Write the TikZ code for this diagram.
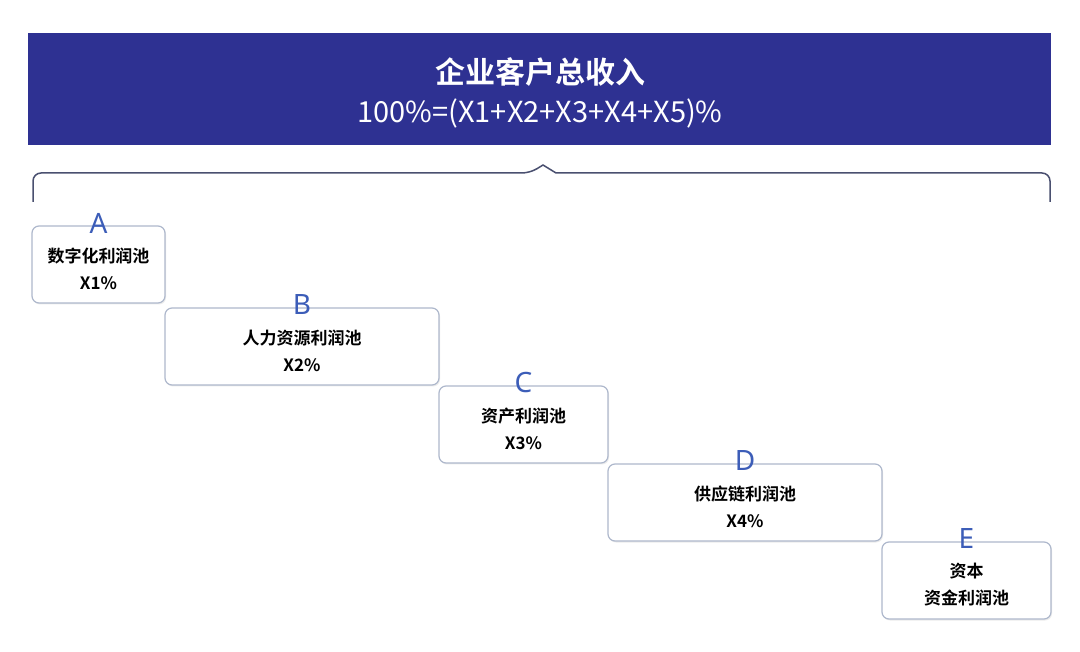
\documentclass[tikz,border=0pt]{standalone}
\usepackage{fontspec}
\setmainfont{Noto Sans CJK SC}
\newfontfamily\cjkb{Noto Sans CJK SC Bold}
\newfontfamily\latb{Noto Sans}
\definecolor{hdr}{HTML}{2E3192}
\definecolor{lett}{HTML}{3C5DB8}
\definecolor{bord}{HTML}{AEB8CC}
\definecolor{brc}{HTML}{4A5070}
\tikzset{x=1pt,y=-1pt,
 pool/.style={draw=bord,line width=1.2pt,rounded corners=7pt,fill=white,drop shadow={opacity=0.15,shadow xshift=1pt,shadow yshift=-1.5pt}},
 letter/.style={text=lett,font=\latb\fontsize{28}{28}\selectfont},
 ptxt/.style={align=center,font=\cjkb\fontsize{17}{27}\selectfont}}
\usetikzlibrary{shadows}
\begin{document}
\begin{tikzpicture}
\useasboundingbox (0,0) rectangle (1080,652);
\fill[white] (0,0) rectangle (1080,652);
\node[fill=hdr,minimum width=1023pt,minimum height=112pt,inner sep=0pt] (hdr) at (539.5,89) {};
\node[text=white,font=\cjkb\fontsize{30}{30}\selectfont] (t1) at (540,72) {企业客户总收入};
\node[text=white,font=\fontsize{29}{29}\selectfont] (t2) at (540,113) {100\%=(X1+X2+X3+X4+X5)\%};
\draw[brc,line width=1.5pt,rounded corners=8pt] (33,202) -- (33,173) -- (530,173) [sharp corners]-- (543,165) -- (556,173) [rounded corners=8pt]-- (1050,173) -- (1050,202);
\foreach \n/\xa/\xb/\ya/\l/\t/\v in {a/32/165/226/A/数字化利润池/X1\%,b/165/439/308/B/人力资源利润池/X2\%,c/439/608/386/C/资产利润池/X3\%,d/608/882/464/D/供应链利润池/X4\%,e/882/1051/542/E/资本 / 资金利润池/X5\%}{
 \draw[pool] (\xa,\ya) rectangle (\xb,\ya+77);
 \node[letter] (l\n) at ({(\xa+\xb)/2},\ya-3) {\l};
 \node[ptxt] (p\n) at ({(\xa+\xb)/2},\ya+43) {\t\\\v};
}
\end{tikzpicture}
\end{document}
